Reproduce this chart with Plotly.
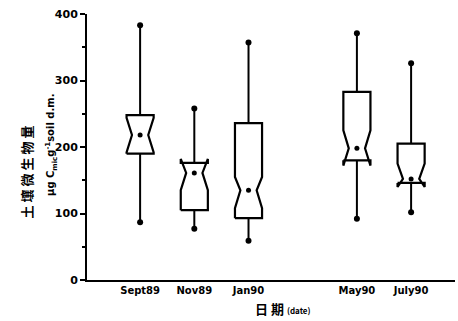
import numpy as np
import plotly.graph_objects as go

# Sampling dates and the month offset of each (months after Sept 1989)
dates = ["Sept89", "Nov89", "Jan90", "May90", "July90"]
month_offset = [0, 2, 4, 8, 10]

# Microbial biomass C (µg Cmic g-1 soil d.m.) summary statistics
whisker_low = [87, 77, 59, 92, 102]
q1 = [190, 105, 93, 180, 146]
median = [218, 161, 135, 198, 152]
q3 = [248, 176, 236, 283, 205]
whisker_high = [383, 258, 357, 371, 326]
notch_low = [192, 135, 108, 172, 140]
notch_high = [244, 182, 155, 225, 175]

y_ticks = [0, 100, 200, 300, 400]

pos = np.array(month_offset) / 2.0
half_w = 0.25      # half box width in axis units
notch_frac = 0.6   # waist width relative to box width

# Notched box outlines (folded when the notch passes a hinge)
bx, by = [], []
for p, a, ln, m, un, b in zip(pos, q1, notch_low, median, notch_high, q3):
    l, r = p - half_w, p + half_w
    nl, nr = p - half_w * notch_frac, p + half_w * notch_frac
    bx += [l, l, nl, l, l, r, r, nr, r, r, l, None]
    by += [a, ln, m, un, b, b, un, m, ln, a, a, None]

# Whisker lines
wx, wy = [], []
for p, lo, a, b, hi in zip(pos, whisker_low, q1, q3, whisker_high):
    wx += [p, p, None, p, p, None]
    wy += [lo, a, None, b, hi, None]

fig = go.Figure()
fig.add_trace(go.Scatter(x=wx, y=wy, mode="lines",
                         line=dict(color="black", width=2), hoverinfo="skip"))
fig.add_trace(go.Scatter(x=bx, y=by, mode="lines",
                         line=dict(color="black", width=2.2), hoverinfo="skip"))
fig.add_trace(go.Scatter(x=np.concatenate([pos, pos]),
                         y=whisker_low + whisker_high, mode="markers",
                         marker=dict(color="black", size=6), hoverinfo="skip"))
fig.add_trace(go.Scatter(x=pos, y=median, mode="markers",
                         marker=dict(color="black", size=5), hoverinfo="skip"))

fig.update_layout(
    width=458, height=321,
    margin=dict(l=87, r=3, t=14, b=41),
    paper_bgcolor="white", plot_bgcolor="white",
    showlegend=False,
    font=dict(family="DejaVu Sans", color="black"),
)
fig.update_xaxes(
    range=[-0.98, 5.81], tickvals=pos, ticktext=dates,
    showline=True, linecolor="black", linewidth=2,
    showgrid=False, zeroline=False, ticks="",
    tickfont=dict(size=10, weight="bold", color="black"),
)
fig.update_yaxes(
    range=[0, 400], tickvals=y_ticks,
    showline=True, linecolor="black", linewidth=2,
    showgrid=False, zeroline=False,
    ticks="outside", ticklen=5, tickwidth=2, tickcolor="black",
    minor=dict(dtick=50, ticks="outside", ticklen=3, tickwidth=1.5, tickcolor="black"),
    tickfont=dict(size=11, weight="bold", color="black"),
)

fig.add_annotation(text="土 壤 微 生 物 量", xref="paper", yref="paper",
                   x=-0.196, y=0.406, textangle=-90, showarrow=False,
                   font=dict(family="Noto Sans CJK SC", size=13, weight="bold", color="black"))
fig.add_annotation(text="μg C<sub>mic</sub>g<sup>-1</sup>soil d.m.", xref="paper", yref="paper",
                   x=-0.122, y=0.508, textangle=-90, showarrow=False,
                   font=dict(family="DejaVu Sans", size=10, weight="bold", color="black"))
fig.add_annotation(text="日 期 <span style='font-size:8px'>(date)</span>",
                   xref="paper", yref="paper", x=0.533, y=-0.15,
                   showarrow=False,
                   font=dict(family="Noto Sans CJK SC", size=13, weight="bold", color="black"))

fig.write_html("out.html")
